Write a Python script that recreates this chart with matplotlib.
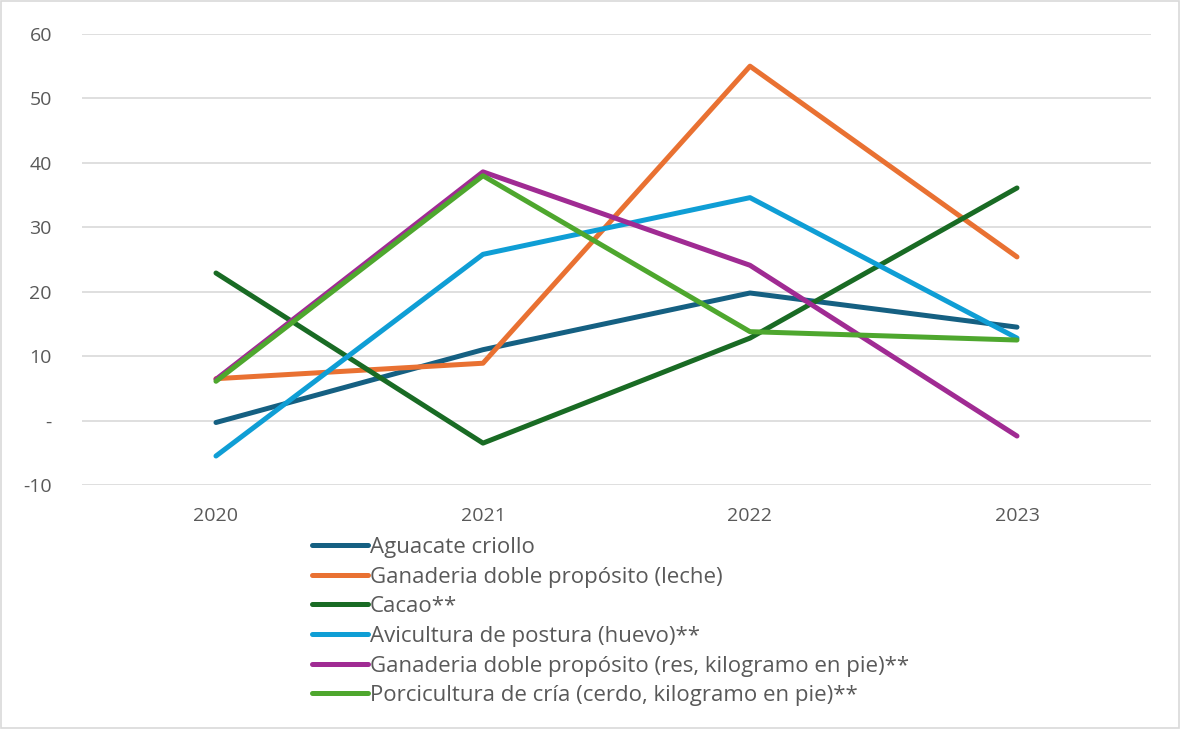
import numpy as np
import matplotlib
matplotlib.use("Agg")
import matplotlib.pyplot as plt
from matplotlib.patches import Rectangle

# Data
years = ["2020", "2021", "2022", "2023"]
aguacate = [-0.3, 11.0, 19.8, 14.5]
leche = [6.5, 8.9, 55.0, 25.4]
cacao = [22.9, -3.5, 12.8, 36.1]
huevo = [-5.5, 25.8, 34.6, 12.8]
res = [6.4, 38.6, 24.1, -2.4]
cerdo = [6.1, 38.0, 13.8, 12.5]

labels = ["Aguacate criollo",
          "Ganaderia doble propósito (leche)",
          "Cacao**",
          "Avicultura de postura (huevo)**",
          "Ganaderia doble propósito (res, kilogramo en pie)**",
          "Porcicultura de cría (cerdo, kilogramo en pie)**"]
colors = ["#156082", "#E97132", "#196B24", "#0F9ED5", "#A02B93", "#4EA72E"]
series = [aguacate, leche, cacao, huevo, res, cerdo]

yticks = [-10, 0, 10, 20, 30, 40, 50, 60]
ytick_labels = ["-10", "-", "10", "20", "30", "40", "50", "60"]

plt.rcParams['font.family'] = ['Open Sans', 'DejaVu Sans']
txt = "#595959"

fig = plt.figure(figsize=(11.8, 7.29), dpi=100)
ax = fig.add_axes([0.0699, 0.3347, 0.9051, 0.6187])

x = np.arange(len(years))
for s, lab, c in zip(series, labels, colors):
    ax.plot(x, s, color=c, lw=3.6, label=lab, solid_capstyle='round',
            solid_joinstyle='round')

ax.set_xlim(-0.5, len(years) - 0.5)
ax.set_ylim(-10, 60)
ax.set_xticks(x)
ax.set_xticklabels(years)
ax.set_yticks(yticks)
ax.set_yticklabels(ytick_labels)
ax.tick_params(length=0, labelsize=14, colors=txt)
ax.tick_params(axis='x', pad=16)
ax.tick_params(axis='y', pad=22)
ax.grid(axis='y', color="#D9D9D9", lw=1.2)
ax.set_axisbelow(True)
for sp in ax.spines.values():
    sp.set_visible(False)

leg = fig.legend(loc='upper left', bbox_to_anchor=(0.2644, 0.2635), frameon=False,
                 fontsize=16, handlelength=2.5, handletextpad=0.1,
                 labelspacing=0.39, borderaxespad=0, borderpad=0)
for t in leg.get_texts():
    t.set_color(txt)

fig.patches.append(Rectangle((0.001, 0.001), 0.998, 0.998, transform=fig.transFigure,
                             fill=False, edgecolor="#D9D9D9", lw=1.2))

fig.savefig("out.png", dpi=100)
